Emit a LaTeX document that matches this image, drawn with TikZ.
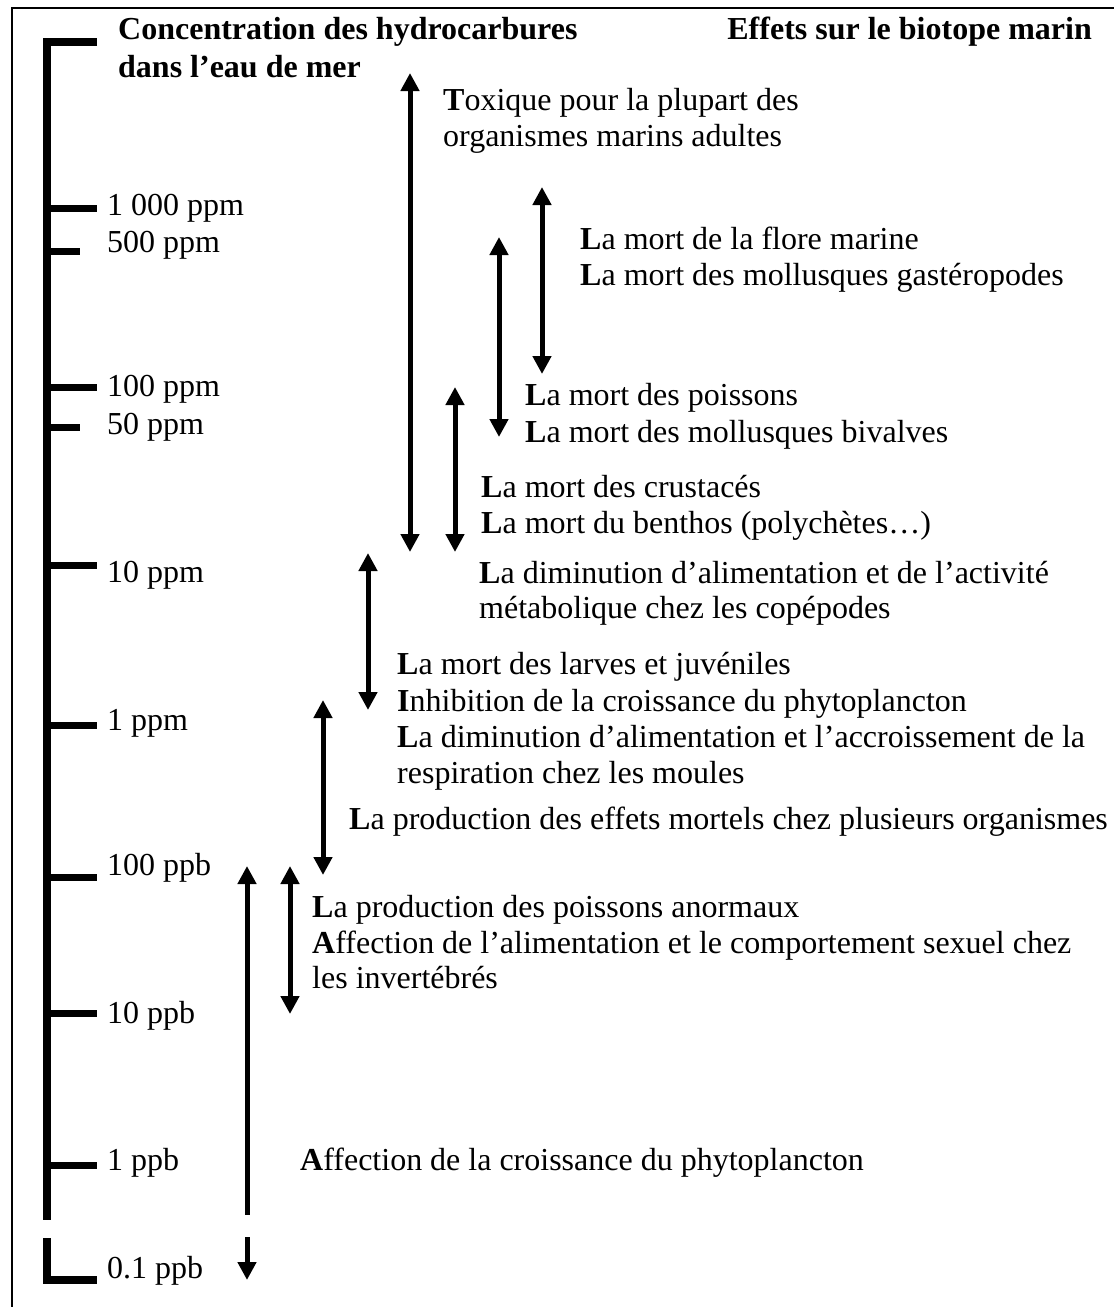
\documentclass[tikz,border=0pt]{standalone}
\usepackage{fontspec}
\setmainfont{Liberation Serif}
\usetikzlibrary{arrows.meta}
\begin{document}
\begin{tikzpicture}[x=1pt,y=-1pt,
  txt/.style={font=\fontsize{32}{36}\selectfont, inner sep=0pt, anchor=base west},
  hdr/.style={font=\fontsize{32}{36}\selectfont\bfseries, inner sep=0pt, anchor=base west},
  axisline/.style={line width=8pt},
  tickline/.style={line width=7pt},
  tip/.tip={Triangle[width=18pt,length=18pt]},
  darrow/.style={line width=5pt, tip-tip},
  uparrow/.style={line width=5pt, tip-},
  downarrow/.style={line width=5pt, -tip},
  frameline/.style={line width=2pt}]
\useasboundingbox (0,0) rectangle (1114,1307);
\clip (0,0) rectangle (1114,1307);
% frame
\draw[frameline] (12,1330) -- (12,8) -- (1130,8);
% axis
\coordinate (axtop) at (97,42);
\coordinate (axbot) at (47,1220);
\coordinate (lstart) at (47,1238);
\coordinate (lend) at (97,1280);
\draw[axisline] (axtop) -| (axbot);
\draw[axisline] (lstart) |- (lend);
% ticks
\foreach \y/\e in {208/97, 251/80, 387/97, 427/80, 565/97, 725/97, 877/97, 1013/97, 1165/97}
  \draw[tickline] (47,\y) -- (\e,\y);
% axis labels
\node[txt] (l1) at (107,215) {1 000 ppm};
\node[txt] (l2) at (107,252) {500 ppm};
\node[txt] (l3) at (107,396) {100 ppm};
\node[txt] (l4) at (107,434) {50 ppm};
\node[txt] (l5) at (107,582) {10 ppm};
\node[txt] (l6) at (107,730) {1 ppm};
\node[txt] (l7) at (107,875) {100 ppb};
\node[txt] (l8) at (107,1023) {10 ppb};
\node[txt] (l9) at (107,1170) {1 ppb};
\node[txt] (l10) at (107,1278) {0.1 ppb};
% headers
\node[hdr] (h1) at (118,39) {Concentration des hydrocarbures};
\node[hdr] (h2) at (118,77) {dans l’eau de mer};
\node[hdr, anchor=base east] (h3) at (1092,39) {Effets sur le biotope marin};
% effect texts
\node[txt] (t1a) at (443,110) {\textbf{T}oxique pour la plupart des};
\node[txt] (t1b) at (443,146) {organismes marins adultes};
\node[txt] (t2a) at (580,249) {\textbf{L}a mort de la flore marine};
\node[txt] (t2b) at (580,285) {\textbf{L}a mort des mollusques gastéropodes};
\node[txt] (t3a) at (525,405) {\textbf{L}a mort des poissons};
\node[txt] (t3b) at (525,442) {\textbf{L}a mort des mollusques bivalves};
\node[txt] (t4a) at (481,497) {\textbf{L}a mort des crustacés};
\node[txt] (t4b) at (481,533) {\textbf{L}a mort du benthos (polychètes…)};
\node[txt] (t5a) at (479,583) {\textbf{L}a diminution d’alimentation et de l’activité};
\node[txt] (t5b) at (479,618) {métabolique chez les copépodes};
\node[txt] (t6a) at (397,674) {\textbf{L}a mort des larves et juvéniles};
\node[txt] (t6b) at (397,711) {\textbf{I}nhibition de la croissance du phytoplancton};
\node[txt] (t6c) at (397,747) {\textbf{L}a diminution d’alimentation et l’accroissement de la};
\node[txt] (t6d) at (397,783) {respiration chez les moules};
\node[txt] (t7) at (349,829) {\textbf{L}a production des effets mortels chez plusieurs organismes};
\node[txt] (t8a) at (312,917) {\textbf{L}a production des poissons anormaux};
\node[txt] (t8b) at (312,953) {\textbf{A}ffection de l’alimentation et le comportement sexuel chez};
\node[txt] (t8c) at (312,988) {les invertébrés};
\node[txt] (t9) at (300,1170) {\textbf{A}ffection de la croissance du phytoplancton};
% arrows
\coordinate (a1t) at (410,73);  \coordinate (a1b) at (410,552);
\coordinate (a2t) at (542,187); \coordinate (a2b) at (542,374);
\coordinate (a3t) at (499,237); \coordinate (a3b) at (499,437);
\coordinate (a4t) at (455,387); \coordinate (a4b) at (455,552);
\coordinate (a5t) at (368,553); \coordinate (a5b) at (368,710);
\coordinate (a6t) at (323,700); \coordinate (a6b) at (323,875);
\coordinate (a7t) at (290,866); \coordinate (a7b) at (290,1014);
\coordinate (a8t) at (247,866); \coordinate (a8b) at (247,1215);
\coordinate (a9t) at (247,1237); \coordinate (a9b) at (247,1280);
\draw[darrow] (a1t) -- (a1b);
\draw[darrow] (a2t) -- (a2b);
\draw[darrow] (a3t) -- (a3b);
\draw[darrow] (a4t) -- (a4b);
\draw[darrow] (a5t) -- (a5b);
\draw[darrow] (a6t) -- (a6b);
\draw[darrow] (a7t) -- (a7b);
\draw[uparrow] (a8t) -- (a8b);
\draw[downarrow] (a9t) -- (a9b);
\end{tikzpicture}
\end{document}
